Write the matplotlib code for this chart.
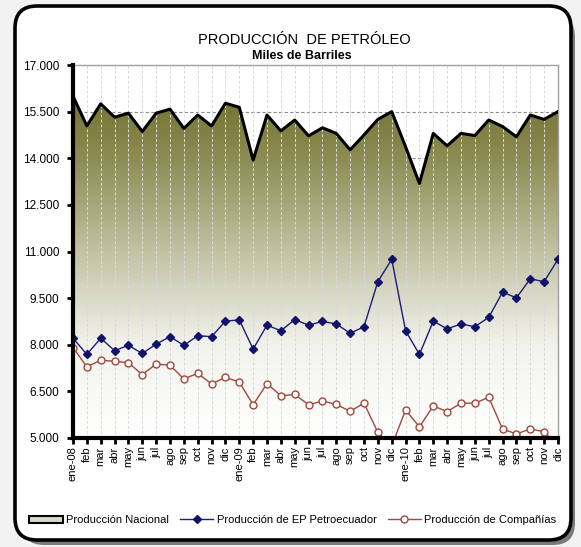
import numpy as np
import matplotlib
matplotlib.use("Agg")
import matplotlib.pyplot as plt
from matplotlib.colors import LinearSegmentedColormap
from matplotlib.patches import FancyBboxPatch, Patch
from matplotlib.lines import Line2D
from matplotlib.ticker import FuncFormatter
import matplotlib.transforms as mtransforms

plt.rcParams['font.family'] = ['Liberation Sans', 'DejaVu Sans']

# monthly data, ene-08 .. dic-10 (miles de barriles)
meses = ['ene-08', 'feb', 'mar', 'abr', 'may', 'jun', 'jul', 'ago', 'sep', 'oct', 'nov', 'dic',
         'ene-09', 'feb', 'mar', 'abr', 'may', 'jun', 'jul', 'ago', 'sep', 'oct', 'nov', 'dic',
         'ene-10', 'feb', 'mar', 'abr', 'may', 'jun', 'jul', 'ago', 'sep', 'oct', 'nov', 'dic']
nacional = [16000, 15040, 15750, 15320, 15450, 14860, 15450, 15580, 14960, 15390, 15040, 15770,
            15640, 13940, 15390, 14880, 15230, 14720, 14980, 14800, 14270, 14750, 15250, 15500,
            14370, 13190, 14800, 14400, 14800, 14730, 15230, 15020, 14690, 15390, 15250, 15500]
petroecuador = [8210, 7690, 8210, 7810, 7980, 7720, 8020, 8260, 7980, 8290, 8260, 8760,
                8800, 7860, 8630, 8450, 8810, 8630, 8750, 8670, 8370, 8580, 10030, 10750,
                8450, 7690, 8760, 8510, 8670, 8580, 8880, 9690, 9510, 10120, 10030, 10750]
companias = [7910, 7290, 7500, 7470, 7420, 7040, 7380, 7340, 6900, 7080, 6740, 6950,
             6800, 6070, 6750, 6360, 6400, 6070, 6190, 6080, 5860, 6120, 5180, 4750,
             5900, 5360, 6030, 5850, 6120, 6120, 6310, 5290, 5130, 5290, 5200, 4750]
yticks = [5000, 6500, 8000, 9500, 11000, 12500, 14000, 15500, 17000]

x = np.arange(len(meses))

fig = plt.figure(figsize=(5.81, 5.47), dpi=100, facecolor='#f2f2f2')

# rounded frame with shadow (pixel coords)
ident = mtransforms.IdentityTransform()
H = 547
shadow = FancyBboxPatch((22, H - 545), 553, 530, boxstyle='round,pad=0,rounding_size=22',
                        transform=ident, facecolor='#7a7a7a', edgecolor='none', zorder=0)
frame = FancyBboxPatch((15, H - 540), 556, 534, boxstyle='round,pad=0,rounding_size=22',
                       transform=ident, facecolor='white', edgecolor='black', linewidth=2.6, zorder=1)
fig.patches.extend([shadow, frame])

ax = fig.add_axes([73 / 581, 1 - 438 / 547, 485 / 581, 373 / 547])
ax.set_zorder(2)
ax.set_facecolor('white')
ax.set_xlim(0, 35)
ax.set_ylim(5000, 17000)

# horizontal grid behind the area
for yv in yticks[1:-1]:
    ax.axhline(yv, color='#8c8c8c', lw=0.8, ls=(0, (3, 2)), zorder=1)

# gradient area for produccion nacional
cmap = LinearSegmentedColormap.from_list('olive', [
    (0.0, (1.0, 1.0, 1.0)),
    (0.25, (0.95, 0.95, 0.93)),
    (0.5, (0.76, 0.76, 0.64)),
    (0.75, (0.55, 0.55, 0.33)),
    (1.0, (0.40, 0.40, 0.13))])
grad = np.linspace(0, 1, 256).reshape(-1, 1)
im = ax.imshow(grad, aspect='auto', cmap=cmap, origin='lower',
               extent=[0, 35, 5000, 17000], zorder=2)
poly = ax.fill_between(x, 5000, nacional, facecolor='none', edgecolor='none')
im.set_clip_path(poly.get_paths()[0], transform=ax.transData)

# vertical dashed grid
for xv in x[1:]:
    ax.axvline(xv, color='#d9d9d9', lw=0.7, ls=(0, (3, 2)), zorder=3)

ax.plot(x, nacional, color='black', lw=2.2, zorder=5)
ax.plot(x, petroecuador, color='#1c1c7a', lw=1.0, marker='D', ms=4.5,
        mfc='#12126a', mec='#12126a', zorder=6)
ax.plot(x, companias, color='#a04a3c', lw=1.0, marker='o', ms=5,
        mfc='white', mec='#a04a3c', mew=1.0, zorder=6)

for s in ['top', 'right']:
    ax.spines[s].set_color('#a0a0a0')
    ax.spines[s].set_linewidth(1.0)
for s in ['left', 'bottom']:
    ax.spines[s].set_color('black')
    ax.spines[s].set_linewidth(3)
    ax.spines[s].set_zorder(7)

ax.set_yticks(yticks)
ax.yaxis.set_major_formatter(FuncFormatter(lambda v, p: '{:,.0f}'.format(v).replace(',', '.')))
ax.set_xticks(x)
ax.set_xticklabels(meses, rotation=90)
ax.tick_params(axis='both', direction='out', length=4, width=2, color='black',
               labelsize=8, pad=2)
ax.tick_params(axis='y', pad=6, labelsize=8.5)

fig.text(304 / 581, 1 - 40 / 547, 'PRODUCCIÓN  DE PETRÓLEO', ha='center', va='center',
         fontsize=10.5, zorder=3)
fig.text(302 / 581, 1 - 56 / 547, 'Miles de Barriles', ha='center', va='center',
         fontsize=9, fontweight='bold', zorder=3)

handles = [Patch(facecolor='#d8d8cc', edgecolor='black', linewidth=1.5),
           Line2D([], [], color='#1c1c7a', lw=1.0, marker='D', ms=4, mfc='#12126a', mec='#12126a'),
           Line2D([], [], color='#a04a3c', lw=1.0, marker='o', ms=5, mfc='white', mec='#a04a3c')]
labels = ['Producción Nacional', 'Producción de EP Petroecuador', 'Producción de Compañías']
leg = fig.legend(handles, labels, loc='center', bbox_to_anchor=(293 / 581, 1 - 520 / 547),
                 ncol=3, frameon=False, fontsize=8, handlelength=3.0, handleheight=0.6,
                 handletextpad=0.3, columnspacing=1.0)
leg.set_zorder(3)

fig.savefig('out.png', dpi=100, facecolor=fig.get_facecolor())
